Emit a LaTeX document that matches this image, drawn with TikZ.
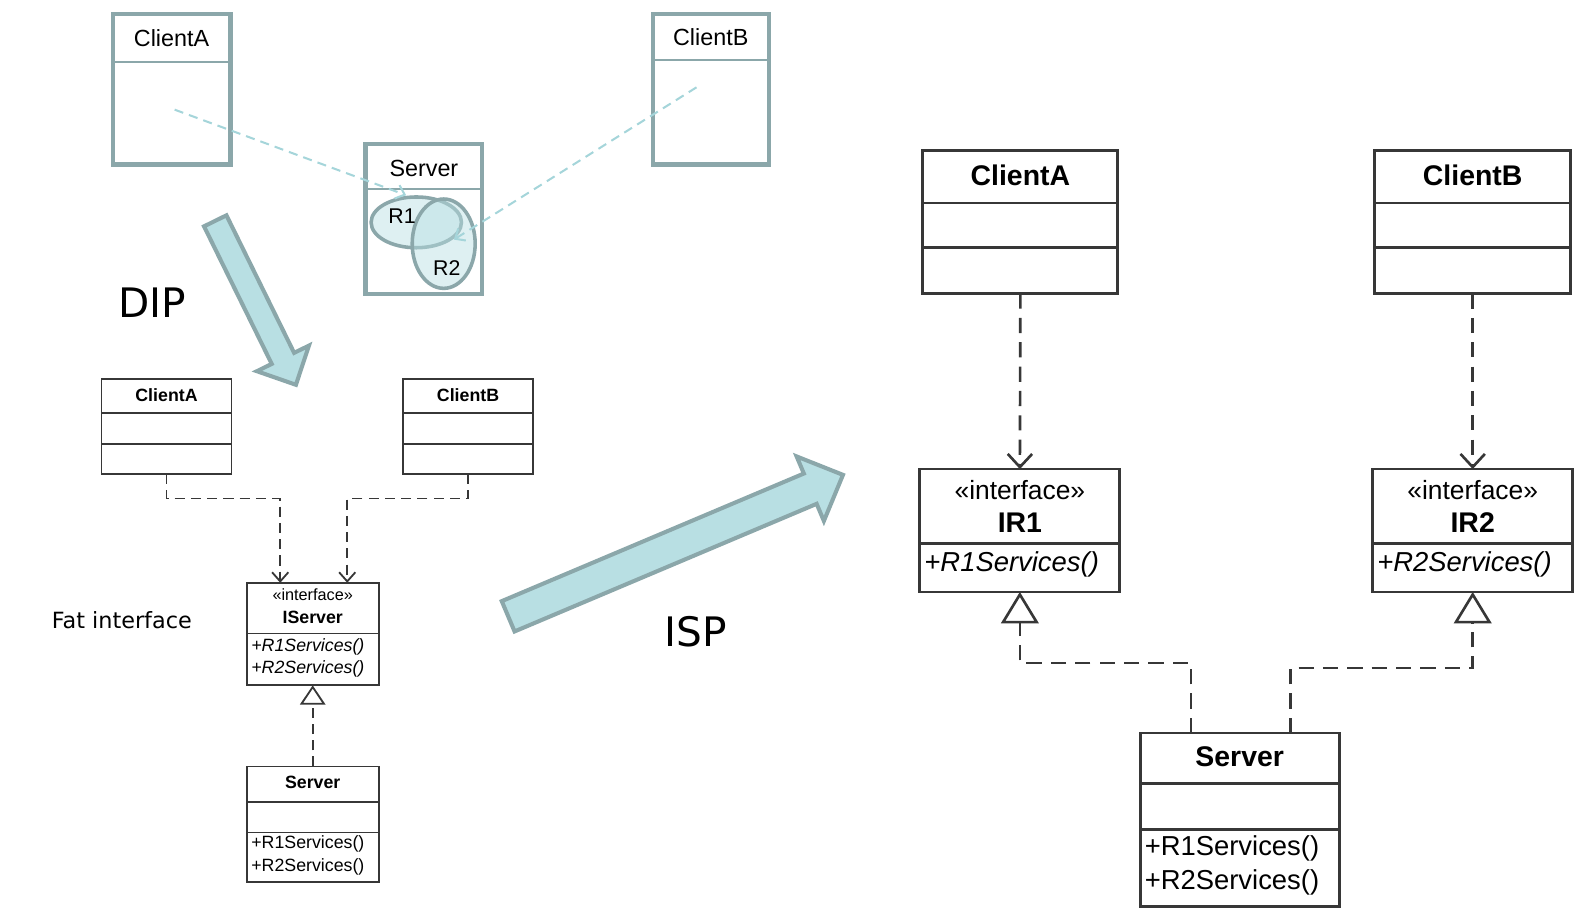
\documentclass[tikz,border=0pt]{standalone}
\usepackage{fontspec}
\setmainfont{Liberation Sans}
\newfontfamily\labelfont{DejaVu Sans}
\usetikzlibrary{arrows.meta,shapes.geometric}

\definecolor{sketchline}{RGB}{139,167,170}
\definecolor{sketchfill}{RGB}{184,223,227}
\definecolor{sketchdash}{RGB}{165,213,218}
\definecolor{umlline}{RGB}{55,55,55}

\newcommand\pxfont[1]{\fontsize{#1}{#1}\selectfont}

\tikzset{
  sketchbox/.style={draw=sketchline, line width=4pt, fill=white, anchor=north west, inner sep=0pt, outer sep=0pt},
  sketchrule/.style={draw=sketchline, line width=2pt},
  sketchtext/.style={font=\pxfont{23}},
  region/.style={ellipse, draw=sketchline, line width=3.5pt, fill=sketchfill, fill opacity=0.45, inner sep=0pt},
  uses/.style={draw=sketchdash, line width=2pt, dash pattern=on 9pt off 6pt, -{Straight Barb[length=8pt,width=14pt]}},
  bigarrow/.style={draw=sketchline, line width=4pt, fill=sketchfill, line join=miter},
  bigtext/.style={font=\labelfont\pxfont{40}},
  smallbox/.style={draw=umlline, line width=1.8pt, anchor=north west, inner sep=0pt, outer sep=0pt},
  smallrule/.style={draw=umlline, line width=1.8pt},
  smalltitle/.style={font=\pxfont{17.5}\bfseries},
  smallmethod/.style={font=\pxfont{17.5}, anchor=west},
  smalldep/.style={draw=umlline, line width=1.8pt, dash pattern=on 10pt off 6pt, -{Straight Barb[length=9pt,width=16pt]}},
  smallreal/.style={draw=umlline, line width=1.8pt, dash pattern=on 10pt off 6pt, -{Triangle[length=19pt,width=25pt,fill=white]}},
  largebox/.style={draw=umlline, line width=2.8pt, anchor=north west, inner sep=0pt, outer sep=0pt},
  largerule/.style={draw=umlline, line width=2.8pt},
  largetitle/.style={font=\pxfont{28}\bfseries},
  largemethod/.style={font=\pxfont{27}, anchor=west},
  largedep/.style={draw=umlline, line width=2.6pt, dash pattern=on 15pt off 9pt, -{Straight Barb[length=13pt,width=24pt]}},
  largereal/.style={draw=umlline, line width=2.6pt, dash pattern=on 15pt off 9pt, -{Triangle[length=31pt,width=37pt,fill=white]}}
}

\begin{document}
\begin{tikzpicture}[x=1pt,y=-1pt]
  \useasboundingbox (0,0) rectangle (1592,913);
  \begin{scope}[transform canvas={scale=1.0153}]

  % sketch before DIP
  \node[sketchbox, minimum width=116pt, minimum height=148pt] (sClientA) at (111,14) {};
  \draw[sketchrule] ([yshift=-47pt]sClientA.north west) -- ([yshift=-47pt]sClientA.north east);
  \node[sketchtext] at ([yshift=-24pt]sClientA.north) {ClientA};
  \node[sketchbox, minimum width=114pt, minimum height=148pt] (sClientB) at (643,14) {};
  \draw[sketchrule] ([yshift=-45pt]sClientB.north west) -- ([yshift=-45pt]sClientB.north east);
  \node[sketchtext] at ([yshift=-23pt]sClientB.north) {ClientB};
  \node[sketchbox, minimum width=115pt, minimum height=148pt] (sServer) at (360,142) {};
  \draw[sketchrule] ([yshift=-44pt]sServer.north west) -- ([yshift=-44pt]sServer.north east);
  \node[sketchtext] at ([yshift=-24pt]sServer.north) {Server};
  \node[region, minimum width=89pt, minimum height=50pt] (eR1) at (410,219) {};
  \node[region, minimum width=62pt, minimum height=88pt] (eR2) at (437,240) {};
  \node[sketchtext, font=\pxfont{21}] at ([xshift=-14pt,yshift=6pt]eR1.center) {R1};
  \node[sketchtext, font=\pxfont{21}] at ([xshift=3pt,yshift=-24pt]eR2.center) {R2};
  \coordinate (srcA) at (172,108);
  \coordinate (srcB) at (686,86);
  \draw[uses] (srcA) -- ([xshift=-10pt]eR1.north);
  \draw[uses] (srcB) -- ([xshift=10pt,yshift=4pt]eR2.center);

  % the two big arrows
  \draw[bigarrow, shift={(212,217.5)}, rotate=-63.8]
    (0,-12.3) -- (151,-12.3) -- (151,-28.6) -- (180,0) -- (151,28.6) -- (151,12.3) -- (0,12.3) -- cycle;
  \draw[bigarrow, shift={(500.5,607)}, rotate=22.9]
    (0,-16.2) -- (323,-16.2) -- (323,-34.5) -- (358,0) -- (323,34.5) -- (323,16.2) -- (0,16.2) -- cycle;
  \node[bigtext] (dip) at (150,298) {DIP};
  \node[bigtext] (isp) at (685,622) {ISP};
  \node[font=\labelfont\pxfont{22}] (fat) at (120,611) {Fat interface};

  % fat interface
  \node[smallbox, minimum width=128pt, minimum height=94pt] (mClientA) at (100,373) {};
  \draw[smallrule] ([yshift=-34pt]mClientA.north west) -- ([yshift=-34pt]mClientA.north east);
  \draw[smallrule] ([yshift=-64pt]mClientA.north west) -- ([yshift=-64pt]mClientA.north east);
  \node[smalltitle] at ([yshift=-16pt]mClientA.north) {ClientA};
  \node[smallbox, minimum width=128pt, minimum height=94pt] (mClientB) at (397,373) {};
  \draw[smallrule] ([yshift=-34pt]mClientB.north west) -- ([yshift=-34pt]mClientB.north east);
  \draw[smallrule] ([yshift=-64pt]mClientB.north west) -- ([yshift=-64pt]mClientB.north east);
  \node[smalltitle] at ([yshift=-16pt]mClientB.north) {ClientB};
  \node[smallbox, minimum width=130pt, minimum height=101pt] (mIServer) at (243,574) {};
  \draw[smallrule] ([yshift=-50pt]mIServer.north west) -- ([yshift=-50pt]mIServer.north east);
  \node[font=\pxfont{16}] at ([yshift=-12pt]mIServer.north) {«interface»};
  \node[smalltitle] at ([yshift=-34pt]mIServer.north) {IServer};
  \node[smallmethod] at ([xshift=1pt,yshift=-63pt]mIServer.north west) {\itshape +R1Services()};
  \node[smallmethod] at ([xshift=1pt,yshift=-85pt]mIServer.north west) {\itshape +R2Services()};
  \node[smallbox, minimum width=130pt, minimum height=114pt] (mServer) at (243,755) {};
  \draw[smallrule] ([yshift=-35pt]mServer.north west) -- ([yshift=-35pt]mServer.north east);
  \draw[smallrule] ([yshift=-65pt]mServer.north west) -- ([yshift=-65pt]mServer.north east);
  \node[smalltitle] at ([yshift=-16pt]mServer.north) {Server};
  \node[smallmethod] at ([xshift=1pt,yshift=-76pt]mServer.north west) {+R1Services()};
  \node[smallmethod] at ([xshift=1pt,yshift=-99pt]mServer.north west) {+R2Services()};
  \draw[smalldep] (mClientA.south) -- ++(0,24) -| ([xshift=-32pt]mIServer.north);
  \draw[smalldep] (mClientB.south) -- ++(0,24) -| ([xshift=34pt]mIServer.north);
  \draw[smallreal] (mServer.north) -- (mIServer.south);

  % segregated interfaces
  \node[largebox, minimum width=192pt, minimum height=141pt] (rClientA) at (909,148) {};
  \draw[largerule] ([yshift=-52pt]rClientA.north west) -- ([yshift=-52pt]rClientA.north east);
  \draw[largerule] ([yshift=-96pt]rClientA.north west) -- ([yshift=-96pt]rClientA.north east);
  \node[largetitle] at ([yshift=-25pt]rClientA.north) {ClientA};
  \node[largebox, minimum width=193pt, minimum height=141pt] (rClientB) at (1354,148) {};
  \draw[largerule] ([yshift=-52pt]rClientB.north west) -- ([yshift=-52pt]rClientB.north east);
  \draw[largerule] ([yshift=-96pt]rClientB.north west) -- ([yshift=-96pt]rClientB.north east);
  \node[largetitle] at ([yshift=-25pt]rClientB.north) {ClientB};
  \node[largebox, minimum width=197pt, minimum height=121pt] (rIR1) at (906,462) {};
  \draw[largerule] ([yshift=-73pt]rIR1.north west) -- ([yshift=-73pt]rIR1.north east);
  \node[font=\pxfont{26}] at ([yshift=-21pt]rIR1.north) {«interface»};
  \node[largetitle] at ([yshift=-53pt]rIR1.north) {IR1};
  \node[largemethod] at ([xshift=1pt,yshift=-94pt]rIR1.north west) {\itshape +R1Services()};
  \node[largebox, minimum width=197pt, minimum height=121pt] (rIR2) at (1352,462) {};
  \draw[largerule] ([yshift=-73pt]rIR2.north west) -- ([yshift=-73pt]rIR2.north east);
  \node[font=\pxfont{26}] at ([yshift=-21pt]rIR2.north) {«interface»};
  \node[largetitle] at ([yshift=-53pt]rIR2.north) {IR2};
  \node[largemethod] at ([xshift=1pt,yshift=-94pt]rIR2.north west) {\itshape +R2Services()};
  \node[largebox, minimum width=196pt, minimum height=171pt] (rServer) at (1123,722) {};
  \draw[largerule] ([yshift=-50pt]rServer.north west) -- ([yshift=-50pt]rServer.north east);
  \draw[largerule] ([yshift=-95pt]rServer.north west) -- ([yshift=-95pt]rServer.north east);
  \node[largetitle] at ([yshift=-23pt]rServer.north) {Server};
  \node[largemethod] at ([xshift=1pt,yshift=-114pt]rServer.north west) {+R1Services()};
  \node[largemethod] at ([xshift=1pt,yshift=-147pt]rServer.north west) {+R2Services()};
  \draw[largedep] (rClientA.south) -- (rIR1.north);
  \draw[largedep] (rClientB.south) -- (rIR2.north);
  \draw[largereal] ([xshift=-48pt]rServer.north) -- ++(0,-69) -| (rIR1.south);
  \draw[largereal] ([xshift=50pt]rServer.north) -- ++(0,-64) -| (rIR2.south);
  \end{scope}
\end{tikzpicture}
\end{document}
